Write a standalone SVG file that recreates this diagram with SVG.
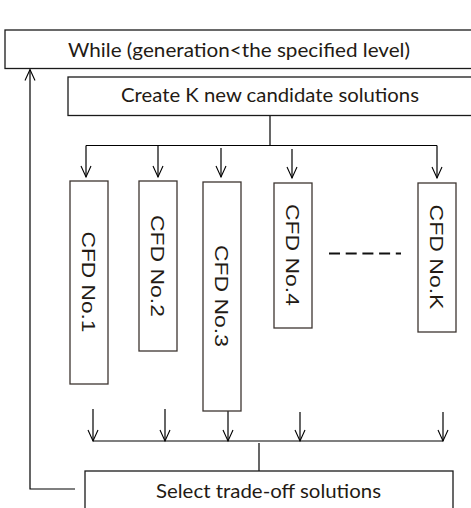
<svg xmlns="http://www.w3.org/2000/svg" width="471" height="508" viewBox="0 0 471 508">
<defs>
<marker id="arr" markerUnits="userSpaceOnUse" markerWidth="14" markerHeight="14" viewBox="-12 -7 14 14" refX="0" refY="0" orient="auto">
<path d="M-11,-5 L0,0 L-11,5" fill="none" stroke="#000" stroke-width="1.1"/>
</marker>
<style>
.box{fill:#fff;stroke:#1a1a1a;stroke-width:1.3}
.cfd{fill:#fff;stroke:#3d3530;stroke-width:1.3}
.lbl{font-family:"Lato","Open Sans",sans-serif;font-size:19px;fill:#231a14;text-anchor:middle}
.cl{font-family:"Liberation Sans",Arial,sans-serif;font-size:19px;fill:#231a14;text-anchor:middle}
.ln{fill:none;stroke:#000;stroke-width:1.2}
</style>
</defs>
<g id="connectors">
<path class="ln" d="M270,116 V145"/>
<path class="ln" d="M86,145.5 H437"/>
<path class="ln" d="M86,145.5 V177" marker-end="url(#arr)"/>
<path class="ln" d="M158,145.5 V177" marker-end="url(#arr)"/>
<path class="ln" d="M221,148 V177" marker-end="url(#arr)"/>
<path class="ln" d="M292,149 V178" marker-end="url(#arr)"/>
<path class="ln" d="M437,145.5 V178" marker-end="url(#arr)"/>
<path class="ln" d="M93,409 V441" marker-end="url(#arr)"/>
<path class="ln" d="M165,409 V441" marker-end="url(#arr)"/>
<path class="ln" d="M228,411 V441" marker-end="url(#arr)"/>
<path class="ln" d="M300,412 V441" marker-end="url(#arr)"/>
<path class="ln" d="M443,412 V441" marker-end="url(#arr)"/>
<path class="ln" d="M93,441 H443" stroke="#444" stroke-width="1.4"/>
<path class="ln" d="M259,443 V471"/>
<path class="ln" d="M75,489 H30 V69.5" marker-end="url(#arr)"/>
<path d="M329,253.5 H401" fill="none" stroke="#111" stroke-width="2" stroke-dasharray="11 5.7"/>
</g>
<g id="while">
<rect class="box" x="5" y="30" width="480" height="38.5"/>
<text class="lbl" x="239" y="57" textLength="342" lengthAdjust="spacingAndGlyphs">While (generation&lt;the specified level)</text>
</g>
<g id="create">
<rect class="box" x="68" y="77" width="420" height="38.5"/>
<text class="lbl" x="270" y="102" textLength="298" lengthAdjust="spacingAndGlyphs">Create K new candidate solutions</text>
</g>
<g id="cfd1">
<rect class="cfd" x="70" y="181" width="38" height="203"/>
<text class="cl" transform="translate(82.3,282) rotate(90)" x="0" y="0" textLength="101" lengthAdjust="spacingAndGlyphs">CFD No.1</text>
</g>
<g id="cfd2">
<rect class="cfd" x="139" y="181" width="38" height="170"/>
<text class="cl" transform="translate(151.3,266) rotate(90)" x="0" y="0" textLength="102" lengthAdjust="spacingAndGlyphs">CFD No.2</text>
</g>
<g id="cfd3">
<rect class="cfd" x="203" y="182" width="38" height="229"/>
<text class="cl" transform="translate(215.3,296) rotate(90)" x="0" y="0" textLength="102" lengthAdjust="spacingAndGlyphs">CFD No.3</text>
</g>
<g id="cfd4">
<rect class="cfd" x="274" y="183" width="38" height="145"/>
<text class="cl" transform="translate(286.3,255) rotate(90)" x="0" y="0" textLength="102" lengthAdjust="spacingAndGlyphs">CFD No.4</text>
</g>
<g id="cfdK">
<rect class="cfd" x="418" y="183" width="38" height="149"/>
<text class="cl" transform="translate(430.3,257) rotate(90)" x="0" y="0" textLength="105" lengthAdjust="spacingAndGlyphs">CFD No.K</text>
</g>
<g id="select">
<rect class="box" x="85" y="471" width="368" height="50"/>
<text class="lbl" x="268.5" y="498" textLength="225" lengthAdjust="spacingAndGlyphs">Select trade-off solutions</text>
</g>
</svg>
